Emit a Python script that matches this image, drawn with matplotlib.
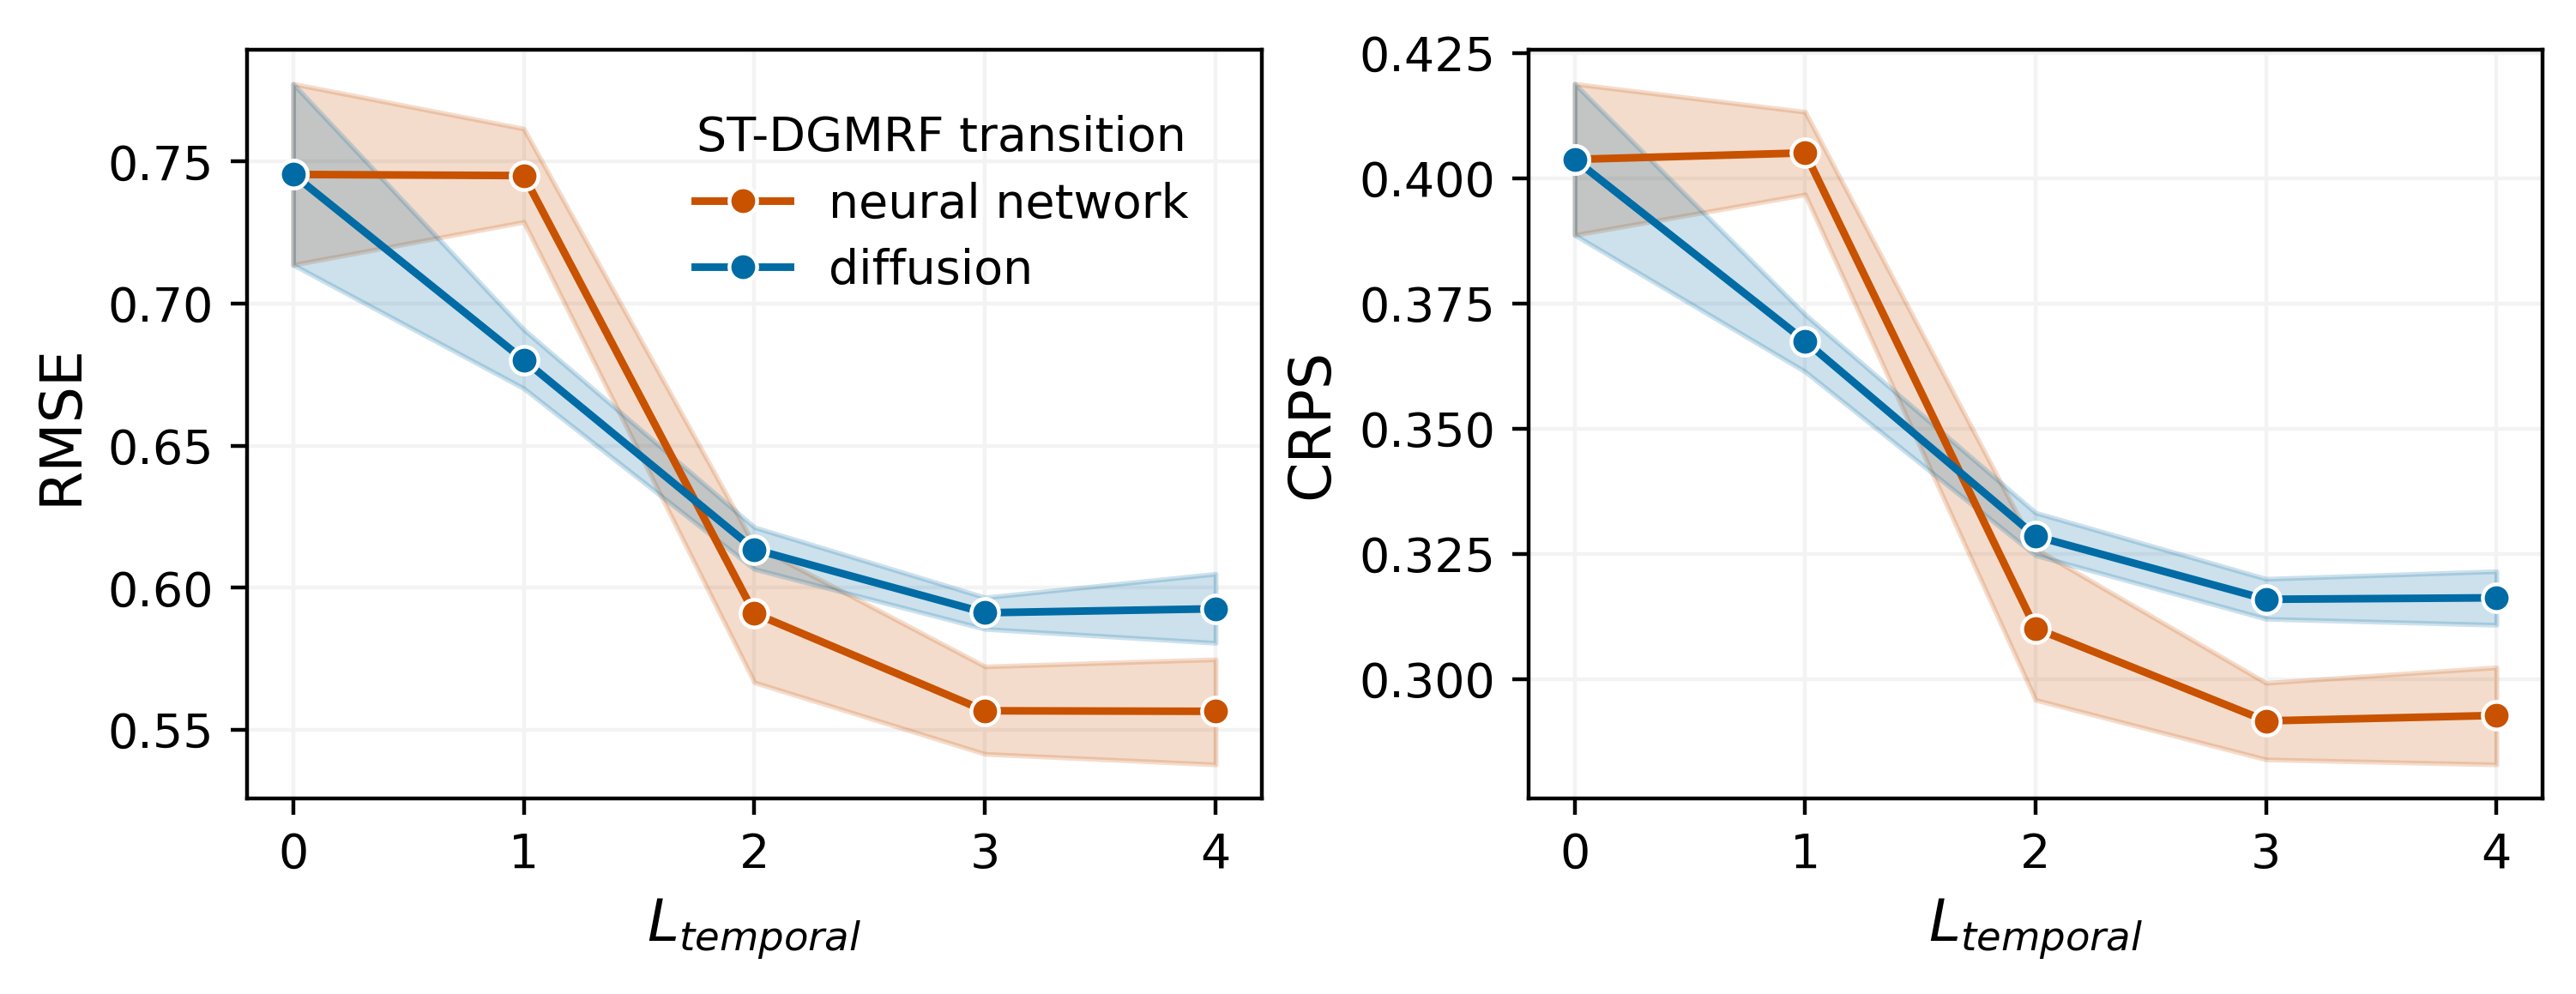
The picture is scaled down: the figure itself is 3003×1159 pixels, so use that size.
import numpy as np
import matplotlib
matplotlib.use("Agg")
import matplotlib.pyplot as plt

#%% values
L_temporal = [0, 1, 2, 3, 4]

rmse_nn = [0.7455, 0.7451, 0.5910, 0.5567, 0.5565]
rmse_nn_lo = [0.7137, 0.7288, 0.5667, 0.5415, 0.5378]
rmse_nn_hi = [0.7774, 0.7616, 0.6150, 0.5723, 0.5748]

rmse_diff = [0.7455, 0.6802, 0.6135, 0.5912, 0.5926]
rmse_diff_lo = [0.7137, 0.6702, 0.6066, 0.5855, 0.5806]
rmse_diff_hi = [0.7774, 0.6909, 0.6213, 0.5966, 0.6049]

crps_nn = [0.4038, 0.4051, 0.3101, 0.2916, 0.2927]
crps_nn_lo = [0.3887, 0.3968, 0.2958, 0.2839, 0.2829]
crps_nn_hi = [0.4189, 0.4133, 0.3260, 0.2992, 0.3023]

crps_diff = [0.4038, 0.3675, 0.3285, 0.3159, 0.3162]
crps_diff_lo = [0.3887, 0.3614, 0.3247, 0.3120, 0.3108]
crps_diff_hi = [0.4189, 0.3728, 0.3332, 0.3200, 0.3215]

labels = ['neural network', 'diffusion']
colors = ['#C85200', '#006BA4']

#%% figure
plt.rcParams['font.family'] = ['DejaVu Sans']
plt.rcParams['font.size'] = 10

fig = plt.figure(figsize=(3003 / 400, 1159 / 400), dpi=400)
ax1 = fig.add_axes([0.0959, 0.1967, 0.3939, 0.7532])
ax2 = fig.add_axes([0.5934, 0.1967, 0.3936, 0.7532])

panels = [
    (ax1, 'RMSE', [(rmse_nn, rmse_nn_lo, rmse_nn_hi), (rmse_diff, rmse_diff_lo, rmse_diff_hi)]),
    (ax2, 'CRPS', [(crps_nn, crps_nn_lo, crps_nn_hi), (crps_diff, crps_diff_lo, crps_diff_hi)]),
]

for ax, name, series in panels:
    for (mean, lo, hi), lab, col in zip(series, labels, colors):
        ax.fill_between(L_temporal, lo, hi, color=col, alpha=0.2, linewidth=1.0, zorder=2)
        ax.plot(L_temporal, mean, color=col, lw=1.6, marker='o', ms=5.8,
                mec='white', mew=0.8, label=lab, zorder=3)
    ax.grid(True, color='#f3f3f3', linewidth=0.8, zorder=0)
    ax.set_axisbelow(True)
    ax.set_xticks(L_temporal)
    ax.tick_params(labelsize=10)
    ax.set_xlabel(r'$L_{temporal}$', fontsize=12)
    ax.set_ylabel(name, fontsize=12)

ax2.set_yticks([0.300, 0.325, 0.350, 0.375, 0.400, 0.425])
ax2.set_yticklabels(['0.300', '0.325', '0.350', '0.375', '0.400', '0.425'])

ax1.legend(title='ST-DGMRF transition', frameon=False, fontsize=10, title_fontsize=10,
           loc='upper right', bbox_to_anchor=(0.97, 0.97), labelspacing=0.42)

fig.savefig('out.png', dpi=400)
